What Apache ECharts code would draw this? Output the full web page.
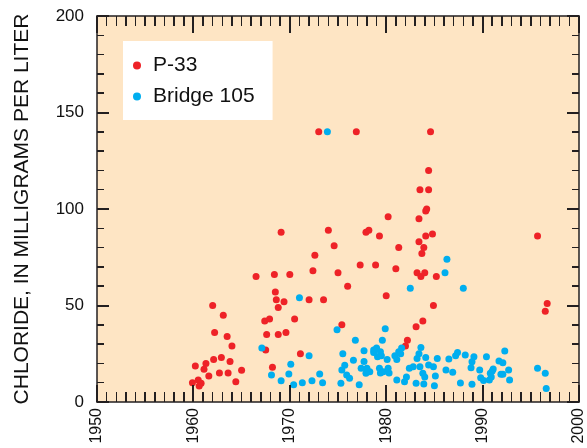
<!DOCTYPE html>
<html>
<head>
<meta charset="utf-8">
<script src="https://cdn.jsdelivr.net/npm/echarts@6/dist/echarts.min.js"></script>
<style>
html,body{margin:0;padding:0;background:#fff;}
#wrap{position:relative;width:587px;height:448px;}
#plotbg{position:absolute;left:97px;top:16px;width:482px;height:386px;background:#fee5c4;}
#chart{position:absolute;left:0;top:0;width:587px;height:448px;}
.tk{position:absolute;background:#231f20;z-index:5;pointer-events:none;}
</style>
</head>
<body>
<div id="wrap"><div id="plotbg"></div><div id="chart"></div></div>
<script>
const seriesNames = ['P-33', 'Bridge 105'];
const yAxisTitle = 'CHLORIDE, IN MILLIGRAMS PER LITER';

const p33Years = [1959.9,1960.5,1960.8,1960.6,1960.2,1961.3,1961.1,1962.1,1962.9,1963.8,1965.0,1961.6,1962.7,1963.6,1964.4,1964.0,1962.0,1963.1,1962.2,1963.5,1966.5,1968.4,1970.0,1968.5,1968.6,1969.4,1968.8,1972.0,1973.5,1967.4,1967.9,1970.5,1975.4,1967.6,1968.8,1969.6,1967.5,1971.1,1968.2,1969.1,1972.4,1972.6,1974.6,1975.0,1976.0,1977.3,1978.9,1974.0,1977.9,1978.2,1979.3,1973.0,1976.9,1984.6,1984.4,1983.5,1984.4,1984.2,1984.1,1983.4,1980.2,1981.3,1983.4,1984.1,1984.8,1983.9,1983.7,1981.0,1983.2,1983.6,1984.0,1985.2,1980.0,1984.9,1983.8,1983.1,1982.2,1982.0,1995.7,1996.7,1996.5];
const p33Values = [10,11.4,9.7,8.3,18.6,20,17,22,23,21,16.5,13.5,15,15,10.5,29,50,45,36,34,65,66,66,57,53,52,49,53,53,42,43,43,40,35,35,36,27,25,18,88,68,76,81,67,60,71,71,89,88,89,86,140,140,140,120,110,110,100,99,95,96,80,83,86,87,80,77,69,67,65,67,65,55,50,42,39,32,29,86,51,47];

const bridgeYears = [1973.9,1971.0,1986.3,1986.1,1982.5,1988.0,1974.9,1979.9,1967.1,1976.8,1979.6,1972.0,1970.1,1968.1,1969.1,1969.9,1970.4,1971.3,1972.3,1973.1,1973.4,1975.5,1976.6,1977.7,1977.7,1978.7,1979.0,1979.4,1979.5,1979.1,1978.7,1980.1,1981.1,1981.3,1980.9,1981.5,1981.6,1975.7,1975.4,1975.9,1976.2,1977.4,1978.0,1978.3,1977.9,1979.3,1979.4,1979.7,1980.3,1980.2,1975.3,1977.2,1981.1,1982.1,1981.9,1982.4,1982.8,1983.6,1983.4,1983.2,1983.5,1984.1,1984.4,1984.9,1985.3,1983.8,1984.0,1983.1,1983.9,1985.0,1985.1,1986.2,1986.9,1986.5,1987.2,1987.4,1988.2,1988.9,1989.1,1988.8,1987.7,1988.9,1989.7,1990.4,1989.8,1990.1,1990.8,1991.0,1991.1,1990.7,1991.7,1992.3,1992.1,1992.7,1990.9,1991.9,1992.1,1992.8,1995.7,1996.5,1996.6];
const bridgeValues = [140,54,74,67,59,59,37.5,38,28,32,32,24,19.5,14,11,14.5,9,10,11,14.5,10,25,21.6,21,26.6,27,28,26,24,23.5,25.7,22,22,26,24,25,28,19,16.6,14,12.3,17.5,17.5,15.7,14.9,17.5,15,15.7,15,17.5,9.7,9,11.4,13,10.5,17.5,18.3,28.3,25,22.6,18.3,23,19.2,18.3,22.6,14.9,13,9.7,9.3,8.4,13.5,16.6,15.4,22.3,24,25.7,24.4,20.9,23.5,17.8,9.8,9.2,16.6,23.5,12.6,11.2,14.9,16,17.1,11.4,21.3,26.4,20.4,16.6,13,14.4,14.4,11.4,17.5,14.9,7];

const xMin = 1950, xMax = 2000, xStep = 10, xMinorStep = 1;
const yMin = 0, yMax = 200, yStep = 50, yMinorStep = 10;

const toPairs = (xs, ys) => xs.map((x, i) => [x, ys[i]]);

const lineColor = '#231f20';
function xAxisDef(pos, showLabel) {
  return {
    type: 'value', min: xMin, max: xMax, interval: xStep, position: pos,
    axisLine: { show: true, onZero: false, lineStyle: { color: lineColor, width: 1.5 } },
    axisTick: { show: false },
    minorTick: { show: false },
    splitLine: { show: false },
    axisLabel: { show: showLabel, rotate: 90, margin: 6, fontSize: 16, color: '#111', formatter: v => String(v) }
  };
}
function yAxisDef(pos, showLabel) {
  const d = {
    type: 'value', min: yMin, max: yMax, interval: yStep, position: pos,
    axisLine: { show: true, onZero: false, lineStyle: { color: lineColor, width: 1.5 } },
    axisTick: { show: false },
    minorTick: { show: false },
    splitLine: { show: false },
    axisLabel: { show: showLabel, margin: 13, fontSize: 17, color: '#111', formatter: v => String(v) }
  };
  if (showLabel) {
    d.name = yAxisTitle; d.nameLocation = 'middle'; d.nameGap = 64; d.nameRotate = 90;
    d.nameTextStyle = { fontSize: 21, color: '#111' };
  }
  return d;
}

const chart = echarts.init(document.getElementById('chart'), null, { renderer: 'canvas' });
chart.setOption({
  animation: false,
  backgroundColor: 'transparent',
  textStyle: { fontFamily: 'Liberation Sans, Arial, sans-serif' },
  grid: { left: 97, right: 8, top: 16, bottom: 46, show: false },
  legend: {
    orient: 'vertical', left: 123, top: 41,
    backgroundColor: '#ffffff',
    padding: [14, 18, 13, 10],
    itemGap: 10,
    itemWidth: 14, itemHeight: 8,
    icon: 'circle',
    textStyle: { fontSize: 21, color: '#111', padding: [0, 0, 0, 4] },
    data: seriesNames
  },
  xAxis: [xAxisDef('bottom', true), xAxisDef('top', false)],
  yAxis: [yAxisDef('left', true), yAxisDef('right', false)],
  series: [
    {
      name: seriesNames[0], type: 'scatter', xAxisIndex: 0, yAxisIndex: 0, z: 3,
      symbolSize: 7, itemStyle: { color: '#ee2227', opacity: 1 },
      data: toPairs(p33Years, p33Values)
    },
    {
      name: seriesNames[1], type: 'scatter', xAxisIndex: 0, yAxisIndex: 0, z: 3,
      symbolSize: 7, itemStyle: { color: '#00aeef', opacity: 1 },
      data: toPairs(bridgeYears, bridgeValues)
    }
  ]
});

// Tick marks positioned through the chart's own axis scales
(function addTicks() {
  try {
    const wrap = document.getElementById('wrap');
    const px = v => chart.convertToPixel({ xAxisIndex: 0 }, v);
    const py = v => chart.convertToPixel({ yAxisIndex: 0 }, v);
    const x0 = px(xMin), x1 = px(xMax), yB = py(yMin), yT = py(yMax);
    const add = (l, t, w, h) => {
      const d = document.createElement('div');
      d.className = 'tk';
      d.style.left = l + 'px'; d.style.top = t + 'px';
      d.style.width = w + 'px'; d.style.height = h + 'px';
      wrap.appendChild(d);
    };
    for (let v = xMin; v <= xMax; v += xMinorStep) {
      const major = v % xStep === 0;
      const L = major ? 17 : 10, w = major ? 2 : 1.5;
      const cx = px(v) - w / 2;
      add(cx, yB - L, w, L);
      add(cx, yT, w, L);
    }
    for (let v = yMin; v <= yMax; v += yMinorStep) {
      const major = v % yStep === 0;
      const L = major ? 12 : 7, h = major ? 2 : 1.5;
      const cy = py(v) - h / 2;
      add(x0, cy, L, h);
      add(x1 - L, cy, L, h);
    }
  } catch (e) { console.error(e); }
})();
</script>
</body>
</html>
